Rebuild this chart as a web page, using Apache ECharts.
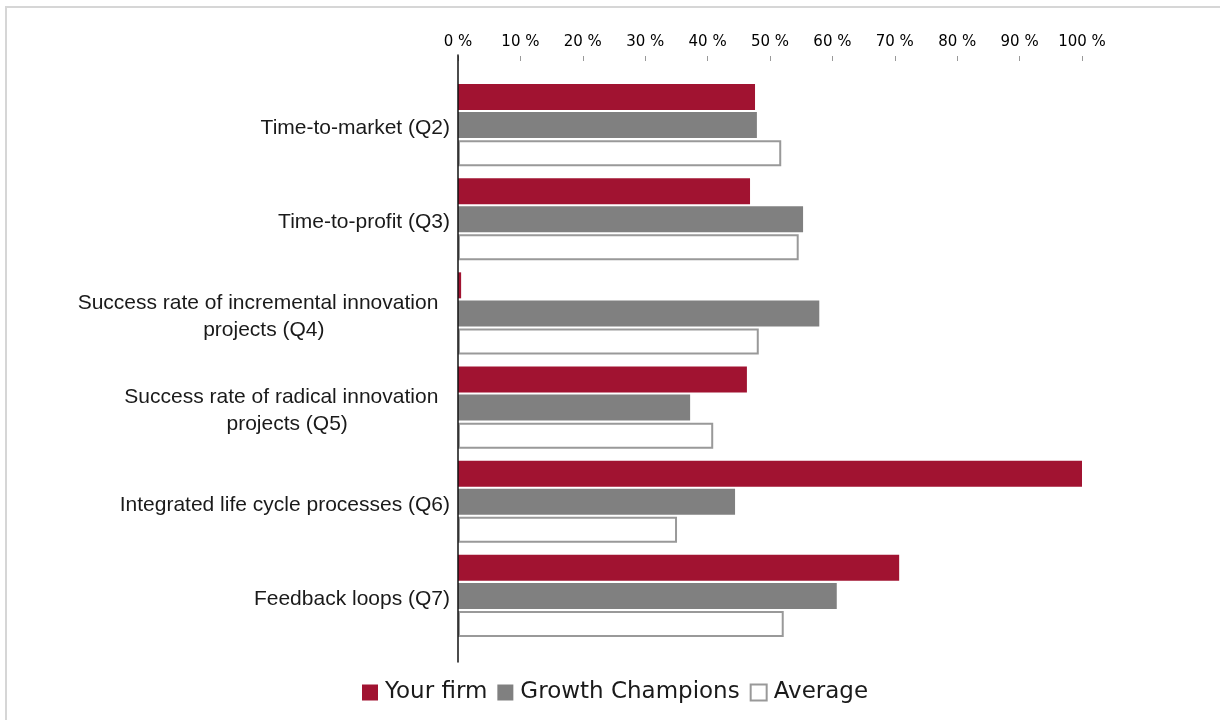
<!DOCTYPE html>
<html>
<head>
<meta charset="utf-8">
<script src="https://cdn.jsdelivr.net/npm/echarts@6/dist/echarts.min.js"></script>
<style>
  html, body { margin: 0; padding: 0; background: #fff; overflow: hidden; }
  #frame { position: absolute; left: 5px; top: 6px; width: 1300px; height: 800px;
           border-left: 2px solid #d6d6d6; border-top: 2px solid #d6d6d6; }
  #chart { position: absolute; left: 0; top: 0; width: 1220px; height: 720px; }
</style>
</head>
<body>
<div id="frame"></div>
<div id="chart"></div>
<script>
var categories = [
    'Time-to-market (Q2)',
    'Time-to-profit (Q3)',
    'Success rate of incremental innovation\nprojects (Q4)',
    'Success rate of radical innovation\nprojects (Q5)',
    'Integrated life cycle processes (Q6)',
    'Feedback loops (Q7)'
];
var yourFirm = [47.6, 46.8, 0.5, 46.3, 100, 70.7];
var growthChampions = [47.9, 55.3, 57.9, 37.2, 44.4, 60.7];
var average = [51.8, 54.6, 48.2, 40.9, 35.1, 52.2];

var myChart = echarts.init(document.getElementById('chart'));
var option = {
    backgroundColor: 'transparent',
    animation: false,
    legend: {
        left: 362,
        top: 681,
        padding: 0,
        itemWidth: 16,
        itemHeight: 16,
        itemGap: 10,
        icon: 'rect',
        textStyle: { fontFamily: 'DejaVu Sans', fontSize: 23, color: '#1a1a1a', padding: [0, 0, 0, 2] },
        data: ['Your firm', 'Growth Champions', 'Average']
    },
    grid: [
        { left: 458, right: 138, top: 78, bottom: 77 },
        // only used to draw the taller vertical axis line
        { left: 458, right: 138, top: 55, bottom: 58 }
    ],
    xAxis: [{
        type: 'value',
        position: 'top',
        min: 0,
        max: 100,
        interval: 10,
        offset: 17,
        axisLine: { show: false },
        axisTick: { show: true, length: 5, lineStyle: { color: '#999' } },
        splitLine: { show: false },
        axisLabel: {
            formatter: '{value} %',
            margin: 11,
            fontFamily: 'DejaVu Sans',
            fontSize: 15,
            color: '#000'
        }
    }, {
        gridIndex: 1,
        type: 'value',
        show: false
    }],
    yAxis: [{
        type: 'category',
        inverse: true,
        data: categories,
        axisLine: { show: false },
        axisTick: { show: false },
        axisLabel: {
            margin: 8,
            padding: [6, 0, 0, 0],
            formatter: function (v) {
                var lines = v.split('\n');
                // wrapped lines keep their trailing space, as in the original
                return lines.map(function (s, i) {
                    return '{a|' + s + (i < lines.length - 1 ? '  ' : '') + '}';
                }).join('\n');
            },
            rich: {
                a: {
                    align: 'center',
                    fontFamily: 'Liberation Sans',
                    fontSize: 21,
                    lineHeight: 27,
                    color: '#1a1a1a'
                }
            }
        }
    }, {
        gridIndex: 1,
        type: 'value',
        z: 10,
        axisLine: { show: true, lineStyle: { color: '#111', width: 1.5 } },
        axisTick: { show: false },
        axisLabel: { show: false },
        splitLine: { show: false }
    }],
    series: [{
        name: 'Your firm',
        type: 'bar',
        barWidth: 26,
        barGap: '8%',
        itemStyle: { color: '#a11331' },
        data: yourFirm
    }, {
        name: 'Growth Champions',
        type: 'bar',
        barWidth: 26,
        barGap: '8%',
        itemStyle: { color: '#808080' },
        data: growthChampions
    }, {
        name: 'Average',
        type: 'bar',
        barWidth: 26,
        barGap: '8%',
        itemStyle: { color: '#ffffff', borderColor: '#999', borderWidth: 2 },
        data: average
    }]
};
myChart.setOption(option);
</script>
</body>
</html>
